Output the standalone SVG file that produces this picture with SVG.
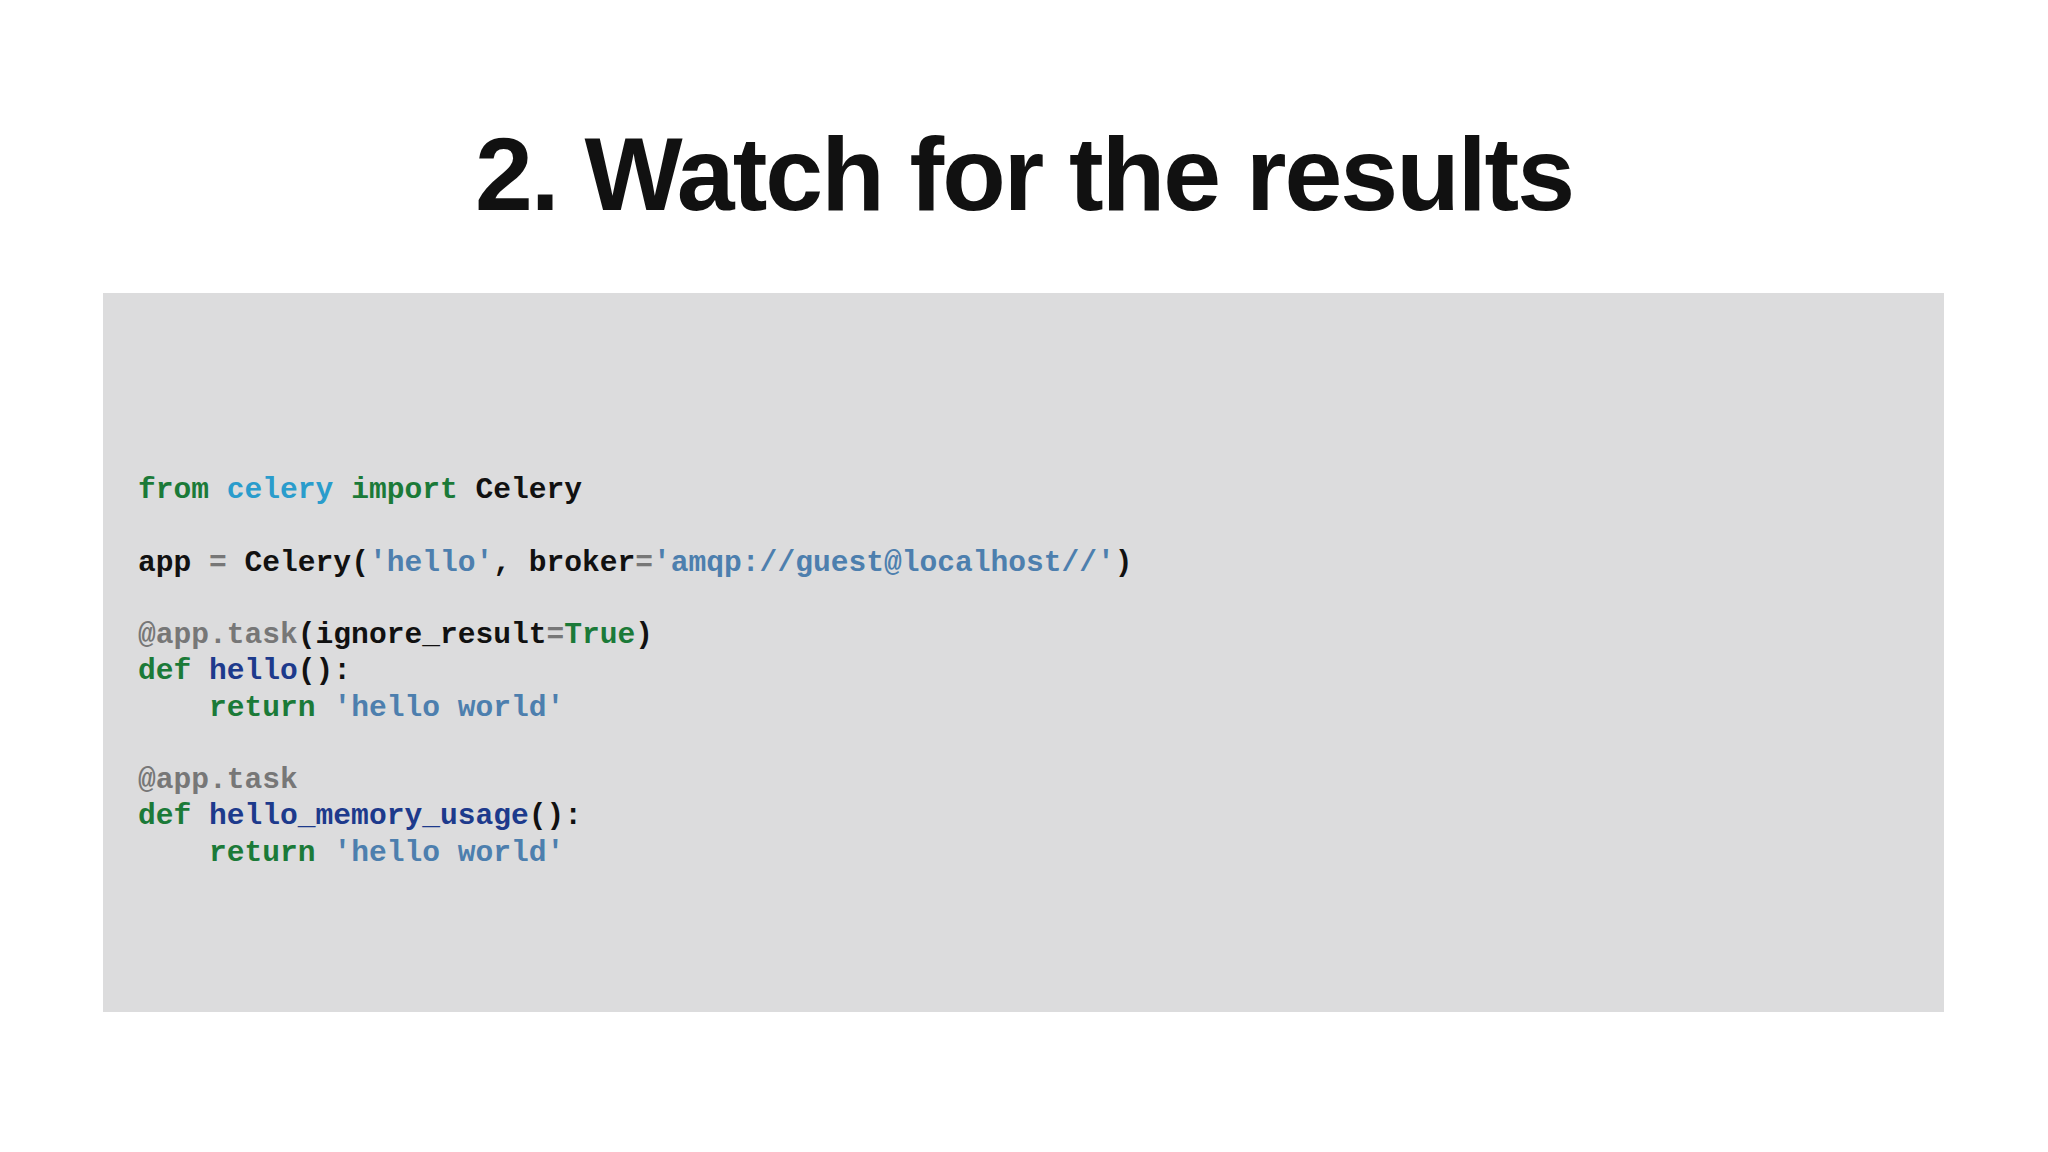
<svg xmlns="http://www.w3.org/2000/svg" width="2048" height="1152" viewBox="0 0 2048 1152">
<style>
.t{font-family:"Liberation Sans",Arial,sans-serif;font-weight:bold;font-size:104px;fill:#111}
.c{font-family:"Liberation Mono","Courier New",monospace;font-weight:bold;font-size:29.6px;fill:#111;white-space:pre}
.k{fill:#1b7a38}.m{fill:#2a9ccc}.s{fill:#4d7fae}.d{fill:#777}.f{fill:#1d3a8c}
</style>
<rect width="2048" height="1152" fill="#fff"/>
<g id="title"><text class="t" x="1024" y="210" text-anchor="middle" letter-spacing="-2">2. Watch for the results</text></g>
<g id="code">
<rect x="103" y="293" width="1841" height="719" fill="#dcdcdd"/>
<text class="c" xml:space="preserve" x="138" y="498"><tspan class="k">from</tspan> <tspan class="m">celery</tspan> <tspan class="k">import</tspan> Celery</text>
<text class="c" xml:space="preserve" x="138" y="571">app <tspan class="d">=</tspan> Celery(<tspan class="s">'hello'</tspan>, broker<tspan class="d">=</tspan><tspan class="s">'amqp://guest@localhost//'</tspan>)</text>
<text class="c" xml:space="preserve" x="138" y="643"><tspan class="d">@app.task</tspan>(ignore_result<tspan class="d">=</tspan><tspan class="k">True</tspan>)</text>
<text class="c" xml:space="preserve" x="138" y="679"><tspan class="k">def</tspan> <tspan class="f">hello</tspan>():</text>
<text class="c" xml:space="preserve" x="138" y="716">    <tspan class="k">return</tspan> <tspan class="s">'hello world'</tspan></text>
<text class="c" xml:space="preserve" x="138" y="788"><tspan class="d">@app.task</tspan></text>
<text class="c" xml:space="preserve" x="138" y="824"><tspan class="k">def</tspan> <tspan class="f">hello_memory_usage</tspan>():</text>
<text class="c" xml:space="preserve" x="138" y="861">    <tspan class="k">return</tspan> <tspan class="s">'hello world'</tspan></text>
</g>
</svg>
